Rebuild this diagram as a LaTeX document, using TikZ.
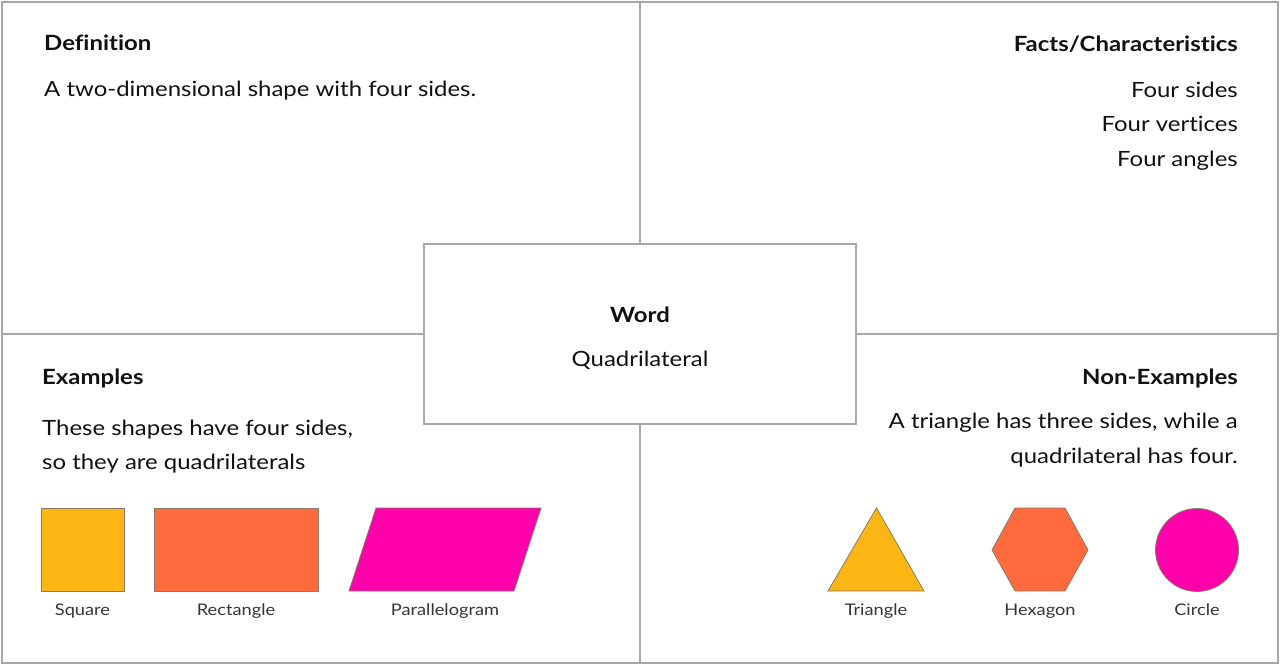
\documentclass[tikz,border=0pt]{standalone}
\usepackage{fontspec}
\setmainfont{Lato}[FakeStretch=1.14, Ligatures=NoCommon]
\definecolor{frame}{HTML}{A8A8A8}
\definecolor{txt}{HTML}{111111}
\definecolor{yel}{HTML}{FBB614}
\definecolor{ora}{HTML}{FF6B3D}
\definecolor{mag}{HTML}{FF00AA}
\definecolor{edge}{HTML}{8A7A6A}
\tikzset{
  head/.style={font=\fontsize{21}{25}\selectfont\bfseries, text=txt, inner sep=0pt},
  body/.style={font=\fontsize{21}{25}\selectfont, text=txt, inner sep=0pt},
  lbl/.style={font=\fontsize{16}{19}\selectfont, text=txt!85, inner sep=0pt, anchor=base},
  shp/.style={draw=edge, line width=0.8pt},
  grid/.style={draw=frame, line width=1.5pt}
}
\begin{document}
\begin{tikzpicture}[x=1pt,y=-1pt]
\useasboundingbox (0,0) rectangle (1280,666);
% frame and dividers
\draw[grid] (2,2) rectangle (1278,663);
\coordinate (vt) at (640,2);
\coordinate (vb) at (640,663);
\coordinate (hl) at (2,334);
\coordinate (hr) at (1278,334);
\draw[grid] (vt) -- (vb);
\draw[grid] (hl) -- (hr);
\node[grid, fill=white, minimum width=432pt, minimum height=180pt, inner sep=0pt] (word) at (640,334) {};
\node[head, anchor=base] (wt) at (640,322) {Word};
\node[body, anchor=base] (wq) at (640,366) {Quadrilateral};
% definition
\node[head, anchor=base west] (dh) at (44,51) {Definition};
\node[body, anchor=base west] (db) at (44,97) {A two-dimensional shape with four sides.};
% facts
\node[head, anchor=base east] (fh) at (1238,51.5) {Facts/Characteristics};
\node[body, anchor=base east] (f1) at (1238,98) {Four sides};
\node[body, anchor=base east] (f2) at (1238,132) {Four vertices};
\node[body, anchor=base east] (f3) at (1238,167) {Four angles};
% examples
\node[head, anchor=base west] (eh) at (42,384) {Examples};
\node[body, anchor=base west] (e1) at (42,435) {These shapes have four sides,};
\node[body, anchor=base west] (e2) at (42,469) {so they are quadrilaterals};
\draw[shp, fill=yel] (41,508) rectangle (124,591);
\draw[shp, fill=ora] (154,508) rectangle (318,591);
\draw[shp, fill=mag] (349,591) -- (376,508) -- (541,508) -- (514,591) -- cycle;
\node[lbl] (ls) at (82.5,615) {Square};
\node[lbl] (lr) at (236,615) {Rectangle};
\node[lbl] (lp) at (445,615) {Parallelogram};
% non-examples
\node[head, anchor=base east] (nh) at (1238,384) {Non-Examples};
\node[body, anchor=base east] (n1) at (1238,428) {A triangle has three sides, while a};
\node[body, anchor=base east] (n2) at (1238,463) {quadrilateral has four.};
\draw[shp, fill=yel] (828,591) -- (876.5,508) -- (924,591) -- cycle;
\draw[shp, fill=ora] (992,550) -- (1015,508) -- (1065,508) -- (1088,550) -- (1065,591) -- (1015,591) -- cycle;
\draw[shp, fill=mag] (1197,550) circle (41.5);
\node[lbl] (lt) at (876,615) {Triangle};
\node[lbl] (lh) at (1040,615) {Hexagon};
\node[lbl] (lc) at (1197,615) {Circle};
\end{tikzpicture}
\end{document}
